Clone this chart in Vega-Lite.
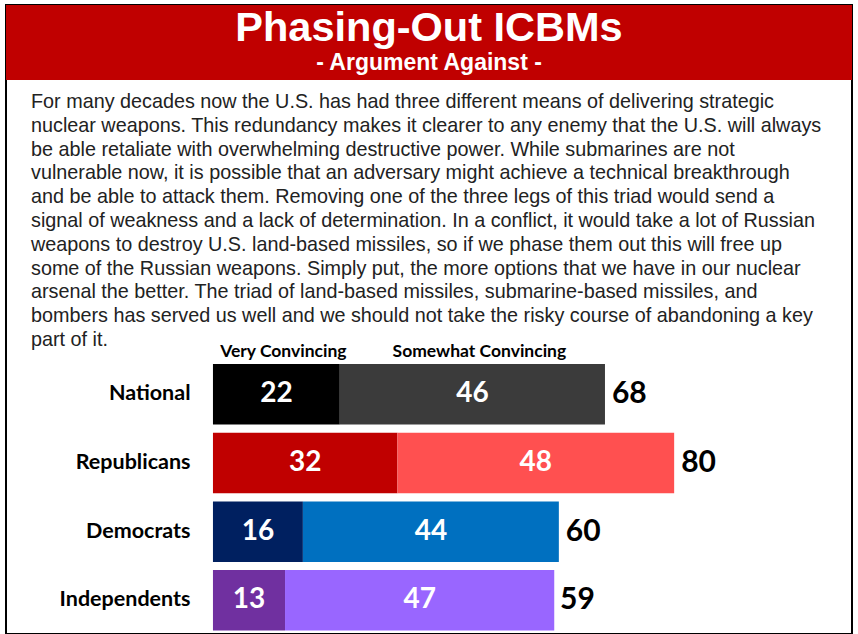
{
  "$schema": "https://vega.github.io/schema/vega-lite/v6.json",
  "width": 858,
  "height": 634,
  "autosize": {"type": "fit", "contains": "padding"},
  "padding": {"left": 6, "top": 5, "right": 6, "bottom": 0},
  "background": "white",
  "view": {"stroke": "#000000", "strokeWidth": 2},
  "datasets": {
    "banner": [
      {"kind": "title", "text": "Phasing-Out ICBMs"},
      {"kind": "subtitle", "text": "- Argument Against -"}
    ],
    "paragraph": [
      {"line": 1, "text": "For many decades now the U.S. has had three different means of delivering strategic"},
      {"line": 2, "text": "nuclear weapons. This redundancy makes it clearer to any enemy that the U.S. will always"},
      {"line": 3, "text": "be able retaliate with overwhelming destructive power. While submarines are not"},
      {"line": 4, "text": "vulnerable now, it is possible that an adversary might achieve a technical breakthrough"},
      {"line": 5, "text": "and be able to attack them. Removing one of the three legs of this triad would send a"},
      {"line": 6, "text": "signal of weakness and a lack of determination. In a conflict, it would take a lot of Russian"},
      {"line": 7, "text": "weapons to destroy U.S. land-based missiles, so if we phase them out this will free up"},
      {"line": 8, "text": "some of the Russian weapons. Simply put, the more options that we have in our nuclear"},
      {"line": 9, "text": "arsenal the better. The triad of land-based missiles, submarine-based missiles, and"},
      {"line": 10, "text": "bombers has served us well and we should not take the risky course of abandoning a key"},
      {"line": 11, "text": "part of it."}
    ],
    "bars": [
      {"group": "National", "type": "Very Convincing", "value": 22, "label": "22"},
      {"group": "National", "type": "Somewhat Convincing", "value": 46, "label": "46"},
      {"group": "Republicans", "type": "Very Convincing", "value": 32, "label": "32"},
      {"group": "Republicans", "type": "Somewhat Convincing", "value": 48, "label": "48"},
      {"group": "Democrats", "type": "Very Convincing", "value": 15.6, "label": "16"},
      {"group": "Democrats", "type": "Somewhat Convincing", "value": 44.4, "label": "44"},
      {"group": "Independents", "type": "Very Convincing", "value": 12.5, "label": "13"},
      {"group": "Independents", "type": "Somewhat Convincing", "value": 46.7, "label": "47"}
    ],
    "totals": [
      {"group": "National", "total": 68},
      {"group": "Republicans", "total": 80},
      {"group": "Democrats", "total": 60},
      {"group": "Independents", "total": 59}
    ]
  },
  "layer": [
    {
      "data": {"name": "banner"},
      "transform": [{"filter": "datum.kind === 'title'"}],
      "mark": {"type": "rect", "color": "#c00000"},
      "encoding": {
        "y": {"field": "kind", "type": "nominal", "scale": {"range": [0, 75], "paddingInner": 0, "paddingOuter": 0}, "axis": null}
      }
    },
    {
      "data": {"name": "banner"},
      "encoding": {
        "y": {"field": "kind", "type": "nominal", "scale": {"domain": ["title", "subtitle"], "range": [24, 58], "padding": 0}, "axis": null},
        "text": {"field": "text"}
      },
      "layer": [
        {
          "transform": [{"filter": "datum.kind === 'title'"}],
          "mark": {"type": "text", "font": "Liberation Sans", "fontWeight": "bold", "fontSize": 41.5, "color": "white", "align": "center", "baseline": "middle", "x": {"expr": "width/2"}}
        },
        {
          "transform": [{"filter": "datum.kind === 'subtitle'"}],
          "mark": {"type": "text", "font": "Liberation Sans", "fontWeight": "bold", "fontSize": 23, "color": "white", "align": "center", "baseline": "middle", "x": {"expr": "width/2"}}
        }
      ]
    },
    {
      "data": {"name": "paragraph"},
      "mark": {"type": "text", "font": "Liberation Sans", "fontSize": 19.8, "color": "#222222", "align": "left", "baseline": "middle", "x": 25},
      "encoding": {
        "y": {"field": "line", "type": "ordinal", "scale": {"range": [97, 335], "padding": 0}, "axis": null},
        "text": {"field": "text"}
      }
    },
    {
      "encoding": {
        "y": {
          "field": "group",
          "type": "nominal",
          "sort": ["National", "Republicans", "Democrats", "Independents"],
          "scale": {"range": [354.9, 629.7], "paddingInner": 0.12, "paddingOuter": 0.06},
          "axis": {"orient": "left", "domain": false, "ticks": false, "title": null, "offset": -207, "labelPadding": 23, "labelFont": "Lato", "labelFontWeight": "bold", "labelFontSize": 21.5, "labelColor": "#000000"}
        }
      },
      "layer": [
        {
          "data": {"name": "bars"},
          "transform": [
            {"stack": "value", "groupby": ["group"], "sort": [{"field": "type", "order": "descending"}], "as": ["v0", "v1"]},
            {"calculate": "datum.group + ' ' + datum.type", "as": "key"}
          ],
          "mark": {"type": "bar"},
          "encoding": {
            "x": {"field": "v0", "type": "quantitative", "scale": {"domain": [-35.9, 110.85], "nice": false, "zero": false}, "axis": null},
            "x2": {"field": "v1"},
            "color": {
              "field": "key",
              "type": "nominal",
              "scale": {
                "domain": ["National Very Convincing", "National Somewhat Convincing", "Republicans Very Convincing", "Republicans Somewhat Convincing", "Democrats Very Convincing", "Democrats Somewhat Convincing", "Independents Very Convincing", "Independents Somewhat Convincing"],
                "range": ["#000000", "#3b3b3b", "#c00000", "#ff5050", "#002060", "#0070c0", "#7030a0", "#9966ff"]
              },
              "legend": null
            }
          }
        },
        {
          "data": {"name": "bars"},
          "transform": [
            {"stack": "value", "groupby": ["group"], "sort": [{"field": "type", "order": "descending"}], "as": ["v0", "v1"]},
            {"calculate": "(datum.v0 + datum.v1) / 2", "as": "mid"}
          ],
          "mark": {"type": "text", "font": "Lato", "fontWeight": "bold", "fontSize": 28, "color": "white", "align": "center", "baseline": "middle"},
          "encoding": {
            "x": {"field": "mid", "type": "quantitative"},
            "text": {"field": "label"}
          }
        },
        {
          "data": {"name": "bars"},
          "transform": [
            {"stack": "value", "groupby": ["group"], "sort": [{"field": "type", "order": "descending"}], "as": ["v0", "v1"]},
            {"calculate": "(datum.v0 + datum.v1) / 2", "as": "mid"},
            {"filter": "datum.group === 'National'"}
          ],
          "mark": {"type": "text", "font": "Lato", "fontWeight": "bold", "fontSize": 17.5, "color": "#000000", "align": "center", "baseline": "middle", "dy": -42.5, "dx": 7},
          "encoding": {
            "x": {"field": "mid", "type": "quantitative"},
            "text": {"field": "type"}
          }
        },
        {
          "data": {"name": "totals"},
          "mark": {"type": "text", "font": "Lato", "fontWeight": "bold", "fontSize": 30, "color": "#000000", "align": "left", "baseline": "middle", "dx": 7},
          "encoding": {
            "x": {"field": "total", "type": "quantitative"},
            "text": {"field": "total"}
          }
        }
      ]
    }
  ],
  "resolve": {"scale": {"y": "independent"}}
}
